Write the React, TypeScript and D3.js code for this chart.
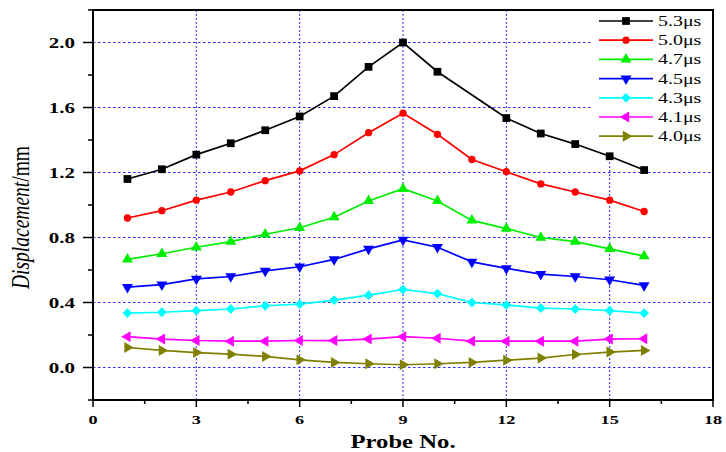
import React from "react";
import * as d3 from "d3";

const probes = [1, 2, 3, 4, 5, 6, 7, 8, 9, 10, 11, 12, 13, 14, 15, 16];

// NaN = point not plotted in the original
const d53 = [1.16, 1.22, 1.31, 1.38, 1.46, 1.545, 1.67, 1.85, 2.0, 1.82, NaN, 1.535, 1.44, 1.375, 1.30, 1.215];
const d50 = [0.92, 0.965, 1.03, 1.08, 1.15, 1.21, 1.31, 1.445, 1.565, 1.435, 1.28, 1.205, 1.13, 1.08, 1.03, 0.96];
const d47 = [0.665, 0.70, 0.74, 0.775, 0.82, 0.86, 0.925, 1.025, 1.10, 1.025, 0.905, 0.855, 0.80, 0.775, 0.73, 0.685];
const d45 = [0.495, 0.51, 0.545, 0.56, 0.595, 0.62, 0.665, 0.73, 0.785, 0.74, 0.65, 0.61, 0.575, 0.56, 0.54, 0.505];
const d43 = [0.335, 0.34, 0.35, 0.36, 0.38, 0.39, 0.415, 0.445, 0.48, 0.455, 0.40, 0.385, 0.365, 0.36, 0.35, 0.335];
const d41 = [0.19, 0.175, 0.166, 0.162, 0.162, 0.166, 0.166, 0.175, 0.19, 0.18, 0.162, 0.162, 0.162, 0.162, 0.175, 0.177];
const d40 = [0.123, 0.105, 0.092, 0.082, 0.068, 0.047, 0.031, 0.023, 0.017, 0.023, 0.031, 0.045, 0.058, 0.08, 0.095, 0.105];

const seriesNames = ["5.3μs", "5.0μs", "4.7μs", "4.5μs", "4.3μs", "4.1μs", "4.0μs"];
const seriesData = [d53, d50, d47, d45, d43, d41, d40];
const colors = ["#000000", "#ff0000", "#00ee00", "#0000ff", "#00ffff", "#ff00ff", "#808000"];
const markers = ["square", "circle", "up", "down", "diamond", "left", "right"];

const xTicks = [0, 3, 6, 9, 12, 15, 18];
const yTicks = [0, 0.4, 0.8, 1.2, 1.6, 2.0];

const W = 726;
const H = 452;
const left = 93;
const right = 713;
const top = 10;
const bottom = 400;
const serif = "'Liberation Serif', 'Times New Roman', serif";

const Marker = ({ kind, x, y, color }: { kind: string; x: number; y: number; color: string }) => {
  let d = "";
  let rot = 0;
  if (kind === "square") d = d3.symbol(d3.symbolSquare, 60)() as string;
  else if (kind === "circle") d = d3.symbol(d3.symbolCircle, 42)() as string;
  else if (kind === "diamond") {
    d = d3.symbol(d3.symbolSquare, 48)() as string;
    rot = 45;
  } else {
    d = d3.symbol(d3.symbolTriangle, 52)() as string;
    rot = kind === "up" ? 0 : kind === "down" ? 180 : kind === "left" ? -90 : 90;
  }
  return <path d={d} transform={`translate(${x},${y}) rotate(${rot})`} fill={color} />;
};

// the original picture is stretched sideways, so text is widened with scale()
const Wide = (props: { x: number; y: number; sx: number; anchor?: string; size: number; bold?: boolean; children: any }) => (
  <text
    transform={`translate(${props.x},${props.y}) scale(${props.sx},1)`}
    textAnchor={props.anchor || "start"}
    fontFamily={serif}
    fontWeight={props.bold ? "bold" : "normal"}
    fontSize={props.size}
  >
    {props.children}
  </text>
);

export default function App() {
  const x = d3.scaleLinear().domain([0, 18]).range([left, right]);
  const y = d3.scaleLinear().domain([-0.2, 2.2]).range([bottom, top]);

  const line = d3
    .line<[number, number]>()
    .x((d) => x(d[0]))
    .y((d) => y(d[1]));

  const xMinor = d3.range(0, 18.01, 1.5);
  const yMinor = d3.range(-0.2, 2.21, 0.2);

  const legX = 599;
  const legY0 = 21;
  const legDy = 19.2;

  return (
    <div style={{ position: "absolute", left: 0, top: 0 }}>
      <svg width={W} height={H} style={{ display: "block", background: "#fff" }}>
        {/* grid */}
        {xTicks.slice(1, -1).map((t) => (
          <line key={"gx" + t} x1={x(t)} x2={x(t)} y1={top} y2={bottom} stroke="#2a2aff" strokeWidth={1} strokeDasharray="2,2" />
        ))}
        {yTicks.map((t) => (
          <line key={"gy" + t} x1={left} x2={right} y1={y(t)} y2={y(t)} stroke="#2a2aff" strokeWidth={1} strokeDasharray="2.5,2.5" />
        ))}

        {/* legend background */}
        <rect x={593} y={top + 1} width={right - 594} height={142} fill="#fff" />

        {/* series */}
        {seriesData.map((vals, i) => {
          const pts = probes
            .map((p, j) => [p, vals[j]] as [number, number])
            .filter((d) => !isNaN(d[1]));
          return (
            <g key={seriesNames[i]}>
              <path d={line(pts) as string} fill="none" stroke={colors[i]} strokeWidth={1.7} />
              {pts.map((d) => (
                <Marker key={d[0]} kind={markers[i]} x={x(d[0])} y={y(d[1])} color={colors[i]} />
              ))}
            </g>
          );
        })}

        {/* legend */}
        {seriesNames.map((n, i) => {
          const ly = legY0 + i * legDy;
          return (
            <g key={"leg" + n}>
              <line x1={legX} x2={legX + 54} y1={ly} y2={ly} stroke={colors[i]} strokeWidth={1.7} />
              <Marker kind={markers[i]} x={legX + 27} y={ly} color={colors[i]} />
              <Wide x={legX + 59} y={ly + 5} sx={1.33} size={15}>
                {n}
              </Wide>
            </g>
          );
        })}

        {/* frame */}
        <rect x={left} y={top} width={right - left} height={bottom - top} fill="none" stroke="#000" strokeWidth={2} />

        {/* x ticks */}
        {xMinor.map((t) => (
          <line key={"xt" + t} x1={x(t)} x2={x(t)} y1={bottom} y2={bottom + (t % 3 === 0 ? 7 : 4)} stroke="#000" strokeWidth={1.5} />
        ))}
        {xTicks.map((t) => (
          <Wide key={"xl" + t} x={x(t)} y={bottom + 24} sx={1.4} anchor="middle" size={13} bold>
            {t}
          </Wide>
        ))}

        {/* y ticks */}
        {yMinor.map((t, i) => (
          <line key={"yt" + i} x1={left - (i % 2 === 1 ? 10 : 5)} x2={left} y1={y(t)} y2={y(t)} stroke="#000" strokeWidth={1.5} />
        ))}
        {yTicks.map((t) => (
          <Wide key={"yl" + t} x={left - 18} y={y(t) + 5} sx={1.5} anchor="end" size={14} bold>
            {t.toFixed(1)}
          </Wide>
        ))}

        {/* axis titles */}
        <Wide x={403} y={448} sx={1.3} anchor="middle" size={19} bold>
          Probe No.
        </Wide>
        <text
          transform={`translate(29,${(142 + 293) / 2}) scale(1.3,1) rotate(-90)`}
          textAnchor="middle"
          fontFamily={serif}
          fontSize={19.5}
        >
          <tspan fontStyle="italic">Displacement</tspan>
          <tspan>/mm</tspan>
        </text>
      </svg>
    </div>
  );
}
